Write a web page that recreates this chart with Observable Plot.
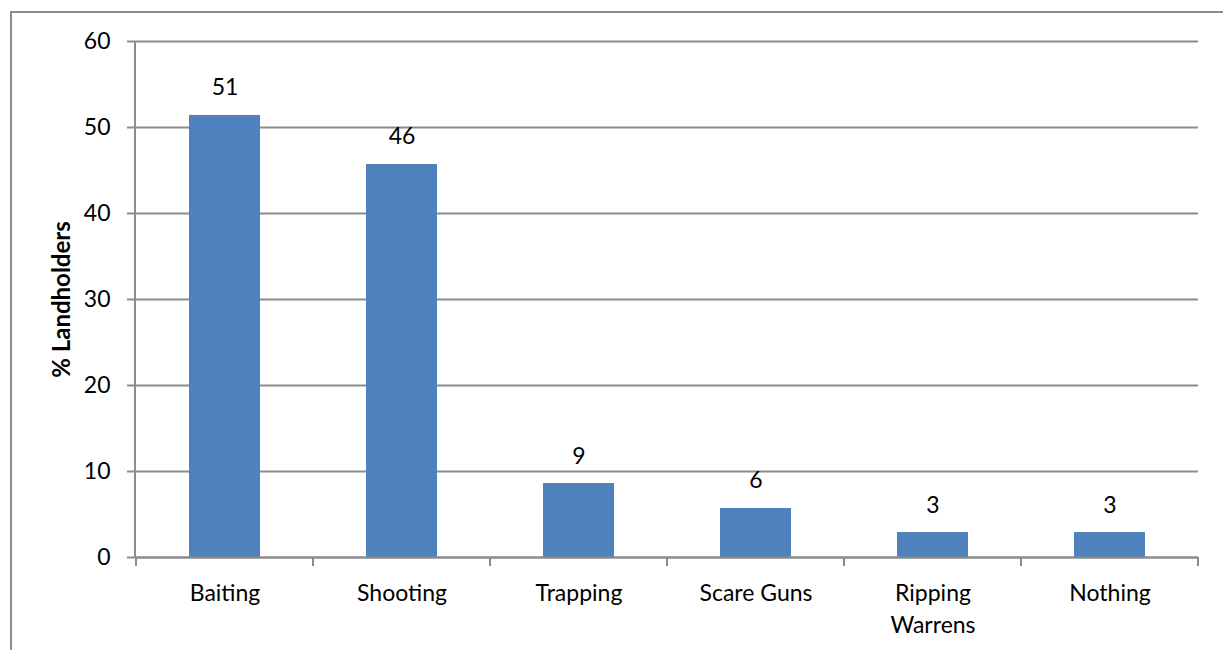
<!DOCTYPE html>
<html>
<head>
<meta charset="utf-8">
<script src="https://cdn.jsdelivr.net/npm/d3@7"></script>
<script src="https://cdn.jsdelivr.net/npm/@observablehq/plot@0.6"></script>
<style>
  html, body { margin: 0; padding: 0; background: #fff; overflow: hidden; }
  #wrap { position: relative; width: 1223px; height: 650px; }
  #border { position: absolute; left: 10px; top: 11px; width: 1400px; height: 800px; border: 2px solid #8c8c8c; box-sizing: border-box; }
  #chart { position: absolute; left: 0; top: 0; }
</style>
</head>
<body>
<div id="wrap">
  <div id="border"></div>
  <div id="chart"></div>
</div>
<script>
const categories = ["Baiting", "Shooting", "Trapping", "Scare Guns", "Ripping\nWarrens", "Nothing"];
const values = [51.4, 45.7, 8.6, 5.7, 2.9, 2.9];
const valueLabels = ["51", "46", "9", "6", "3", "3"];
const yTicks = [0, 10, 20, 30, 40, 50, 60];
const yTitle = "% Landholders";

const data = categories.map((c, i) => ({category: c, value: values[i], label: valueLabels[i]}));

const gray = "#8c8c8c";
const font = "Lato, 'Open Sans', sans-serif";

function categoryTicks(index, scales, vals, dims) {
  const x = scales.x;
  const bw = x.bandwidth ? x.bandwidth() : 0;
  const step = x.step ? x.step() : bw / 0.4;
  const gap = (step - bw) / 2;
  const y0 = dims.height - dims.marginBottom;
  const g = d3.create("svg:g").attr("stroke", gray).attr("stroke-width", 2);
  const edges = categories.map(c => x(c) - gap);
  edges.push(x(categories[categories.length - 1]) + bw + gap);
  for (const e of edges) {
    g.append("line").attr("x1", e).attr("x2", e).attr("y1", y0).attr("y2", y0 + 9);
  }
  g.append("line")
    .attr("x1", dims.marginLeft).attr("x2", dims.marginLeft)
    .attr("y1", dims.marginTop).attr("y2", y0);
  return g.node();
}

const chart = Plot.plot({
  width: 1223,
  height: 650,
  marginLeft: 135,
  marginRight: 25,
  marginTop: 41,
  marginBottom: 93,
  style: {fontFamily: font, fontSize: "23px", color: "#000", background: "transparent"},
  x: {domain: categories, paddingInner: 0.6, paddingOuter: 0.3, label: null},
  y: {domain: [0, 60], label: null},
  marks: [
    Plot.gridY(yTicks, {stroke: gray, strokeOpacity: 1, strokeWidth: 2}),
    Plot.barY(data, {x: "category", y: "value", fill: "#4f81bd"}),
    Plot.ruleY([0], {stroke: gray, strokeWidth: 2}),
    Plot.axisY(yTicks, {tickSize: 8, tickPadding: 17, stroke: gray, strokeWidth: 2, fill: "#000", label: null, fontSize: 23}),
    Plot.axisX({tickSize: 0, tickPadding: 20, fill: "#000", label: null, lineHeight: 1.42, fontSize: 23}),
    Plot.text(data, {x: "category", y: "value", text: "label", lineAnchor: "bottom", dy: -20, fill: "#000", fontSize: 23}),
    Plot.text([yTitle], {frameAnchor: "left", textAnchor: "middle", rotate: -90, dx: -73, fontWeight: "bold", fill: "#000", fontSize: 24}),
    categoryTicks
  ]
});
document.getElementById("chart").appendChild(chart);
</script>
</body>
</html>
